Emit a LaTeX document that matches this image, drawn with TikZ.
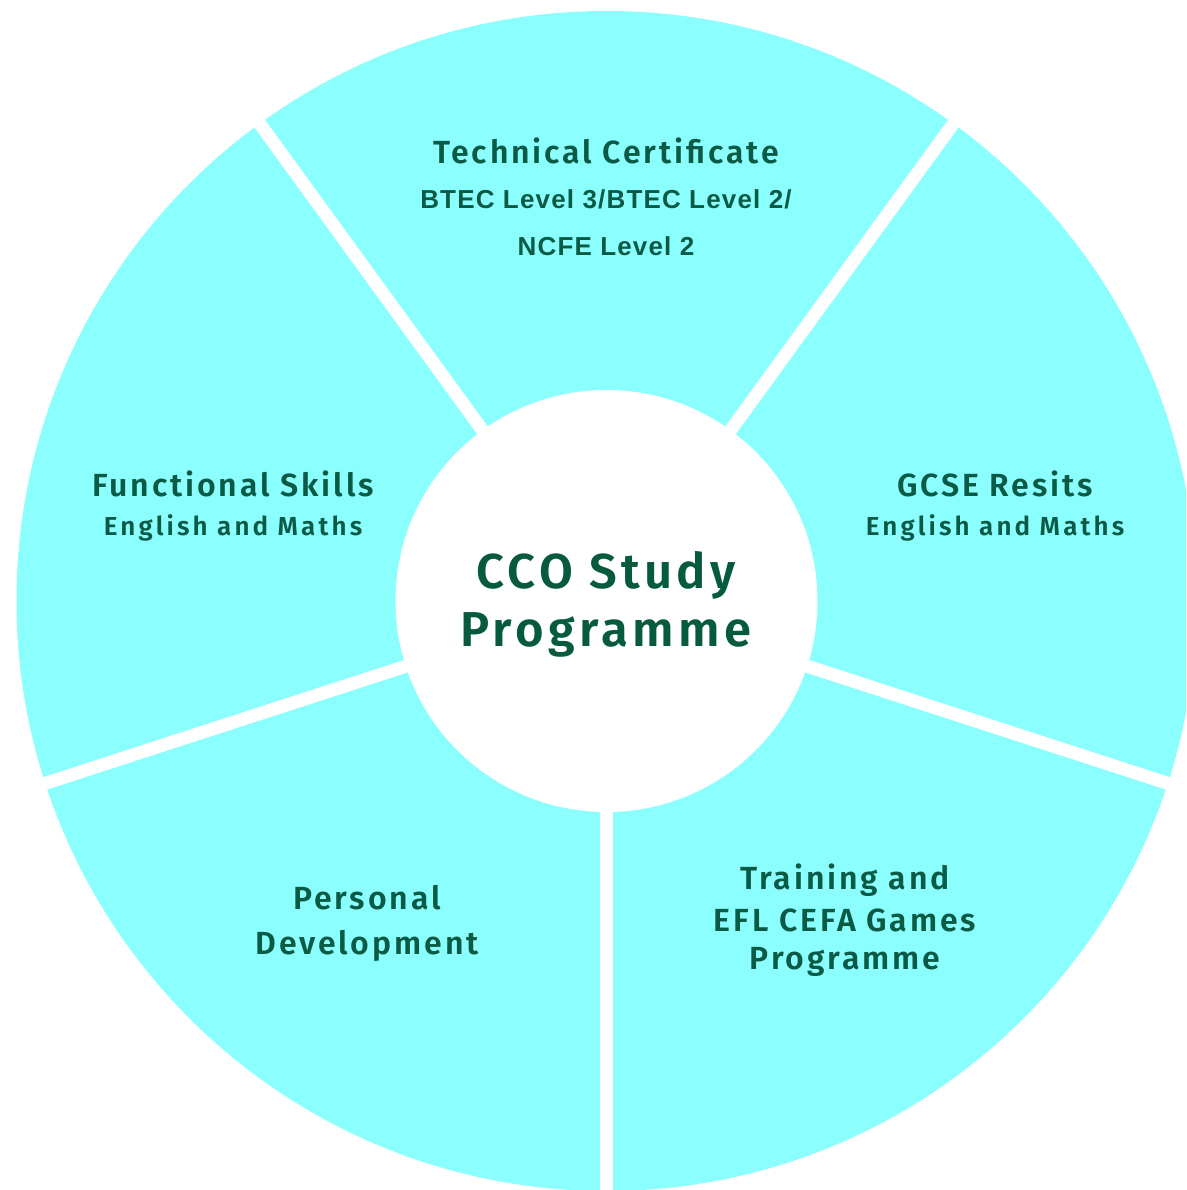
\documentclass[tikz,border=0pt]{standalone}
\usepackage{fontspec}
\newfontfamily\labelfont{Fira Sans}[UprightFont=* SemiBold, LetterSpace=9]
\newfontfamily\subfont{Fira Sans}[UprightFont=* SemiBold, LetterSpace=12]
\newfontfamily\qualfont{Liberation Sans}[UprightFont=* Bold, LetterSpace=4.5]
\definecolor{ring}{HTML}{8AFFFE}
\definecolor{ink}{HTML}{0B5A45}
\definecolor{hub}{HTML}{065A40}
\begin{document}
\begin{tikzpicture}[x=1pt,y=-1pt,
  lbl/.style={text=ink,inner sep=0pt,anchor=base},
  title/.style={lbl,font=\labelfont\fontsize{32}{38}\selectfont},
  sub/.style={lbl,font=\subfont\fontsize{26}{30}\selectfont},
  qual/.style={lbl,font=\qualfont\fontsize{26}{30}\selectfont},
  hubtext/.style={lbl,text=hub,font=\labelfont\fontsize{49}{58}\selectfont},
  gap/.style={draw=white,line width=13pt}]
\useasboundingbox (0,0) rectangle (1186,1190);
\clip (0,0) rectangle (1186,1190);
\coordinate (c) at (606.5,601);
% outer ring and white hub
\fill[ring] (c) circle[radius=590];
\fill[white] (c) circle[radius=211];
% white separators between the five segments
\foreach \a in {90,18,-54,-126,-198}{
  \draw[gap] (c) -- ++(\a:620);
}
% hub
\node[hubtext] (hubA) at (606,588) {CCO Study};
\node[hubtext] (hubB) at (606,646) {Programme};
% top segment
\node[title] (tc) at (606,164) {Technical Certificate};
\node[qual] (tc1) at (606,209) {BTEC Level 3/BTEC Level 2/};
\node[qual] (tc2) at (606,255) {NCFE Level 2};
% left segment
\node[title] (fs) at (233,496) {Functional Skills};
\node[sub] (fs1) at (233,535) {English and Maths};
% right segment
\node[title] (gc) at (995,496) {GCSE Resits};
\node[sub] (gc1) at (995,535) {English and Maths};
% lower left segment
\node[title] (pd1) at (367,909) {Personal};
\node[title] (pd2) at (367,954) {Development};
% lower right segment
\node[title] (tr1) at (845,889) {Training and};
\node[title] (tr2) at (845,931) {EFL CEFA Games};
\node[title] (tr3) at (845,969) {Programme};
\end{tikzpicture}
\end{document}
